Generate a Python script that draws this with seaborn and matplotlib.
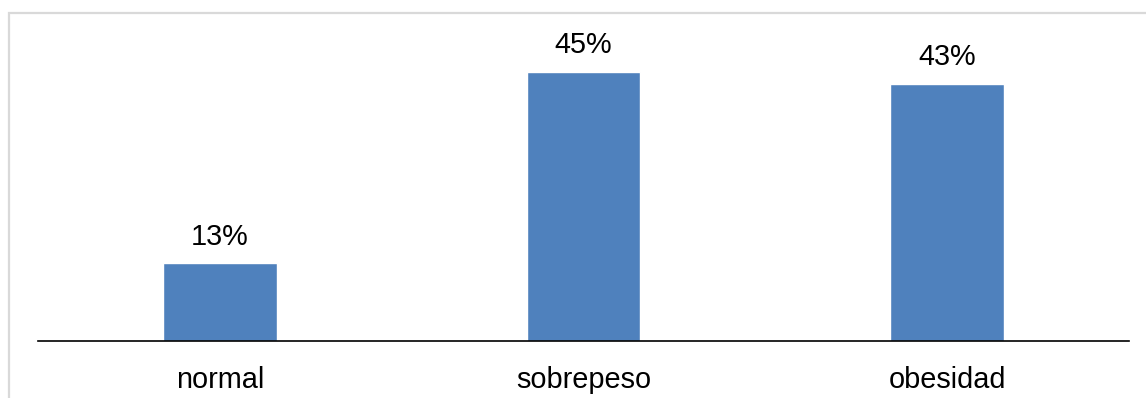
import matplotlib
matplotlib.use("Agg")
import matplotlib.pyplot as plt
from matplotlib.patches import Rectangle
import seaborn as sns
import pandas as pd

categories = ["normal", "sobrepeso", "obesidad"]
percentages = [13, 45, 43]
value_labels = ["13%", "45%", "43%"]

sns.set_theme(style="white")
plt.rcParams["font.family"] = ["Liberation Sans", "DejaVu Sans"]

df = pd.DataFrame({"categoria": categories, "porcentaje": percentages})

fig = plt.figure(figsize=(11.46, 3.98), dpi=100)
ax = fig.add_axes([38 / 1146, 1 - 341 / 398, (1129 - 38) / 1146, 329 / 398])

sns.barplot(data=df, x="categoria", y="porcentaje", color="#4F81BD",
            saturation=1, width=0.313, ax=ax)

ax.set_ylim(0, 55)
ax.set_xlim(-0.5, 2.5)
ax.set_xlabel("")
ax.set_ylabel("")
ax.set_yticks([])
for side in ["top", "right", "left"]:
    ax.spines[side].set_visible(False)
ax.spines["bottom"].set_color("black")
ax.spines["bottom"].set_linewidth(1.2)
ax.tick_params(axis="x", length=0, pad=18, labelsize=20.8, labelcolor="black")

for bar, text in zip(ax.patches, value_labels):
    ax.annotate(text, (bar.get_x() + bar.get_width() / 2, bar.get_height()),
                xytext=(0, 9), textcoords="offset points",
                ha="center", va="bottom", fontsize=20.8, color="black")

# light frame around the chart area
fig.add_artist(Rectangle((9 / 1146, -0.1), 1.2, 1 - 13 / 398 + 0.1,
                         transform=fig.transFigure, fill=False,
                         edgecolor="#D9D9D9", linewidth=1.6, clip_on=False))

fig.savefig("out.png", dpi=100)
